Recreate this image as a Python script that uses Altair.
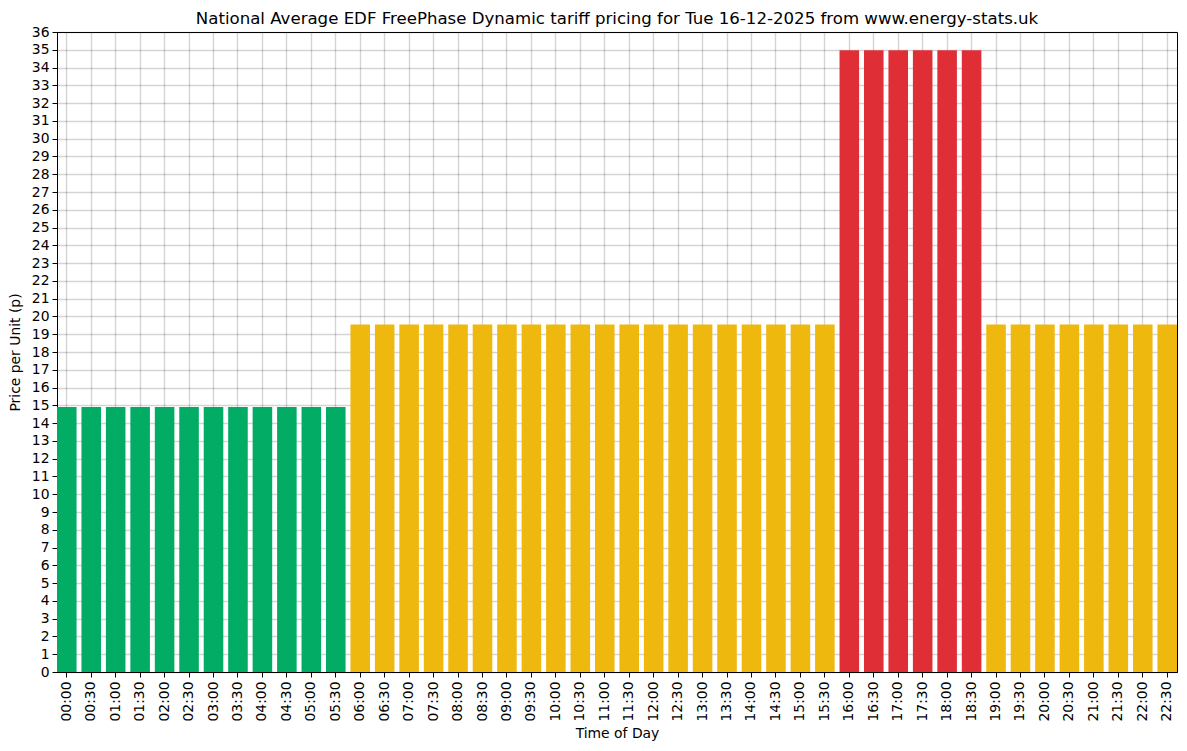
import altair as alt
import pandas as pd

times = ["00:00","00:30","01:00","01:30","02:00","02:30","03:00","03:30","04:00","04:30",
         "05:00","05:30","06:00","06:30","07:00","07:30","08:00","08:30","09:00","09:30",
         "10:00","10:30","11:00","11:30","12:00","12:30","13:00","13:30","14:00","14:30",
         "15:00","15:30","16:00","16:30","17:00","17:30","18:00","18:30","19:00","19:30",
         "20:00","20:30","21:00","21:30","22:00","22:30"]
prices = [14.9]*12 + [19.55]*20 + [34.97]*6 + [19.55]*8
bands = ["low"]*12 + ["mid"]*20 + ["high"]*6 + ["mid"]*8

df = pd.DataFrame({"time": times, "price": prices, "band": bands})

FONT = "DejaVu Sans"
FS = 13.9

chart = alt.Chart(df).mark_bar().encode(
    x=alt.X("time:N", sort=times, title="Time of Day",
            scale=alt.Scale(paddingInner=0.2, paddingOuter=0),
            axis=alt.Axis(labelAngle=270, bandPosition=0.5, labelFontSize=FS,
                          titleFontSize=FS, labelPadding=4, tickSize=5,
                          tickColor="black", domainColor="black", labelColor="black",
                          titleColor="black", labelFont=FONT, titleFont=FONT,
                          titleFontWeight="normal", titlePadding=5,
                          grid=True, gridColor="black", gridOpacity=0.17, gridWidth=1.4)),
    y=alt.Y("price:Q", title="Price per Unit (p)",
            scale=alt.Scale(domain=[0, 36], nice=False),
            axis=alt.Axis(values=list(range(0, 37)), labelFontSize=FS, titleFontSize=FS,
                          tickSize=5, tickColor="black", domainColor="black",
                          labelColor="black", titleColor="black", labelFont=FONT,
                          titleFont=FONT, titleFontWeight="normal", labelPadding=3,
                          titlePadding=9, grid=True, gridColor="black",
                          gridOpacity=0.17, gridWidth=1.4)),
    color=alt.Color("band:N", legend=None,
                    scale=alt.Scale(domain=["low", "mid", "high"],
                                    range=["#02ac64", "#efb80f", "#e02e36"])),
).properties(
    width=1120, height=640,
    title=alt.TitleParams(
        "National Average EDF FreePhase Dynamic tariff pricing for Tue 16-12-2025 from www.energy-stats.uk",
        fontSize=16.6, font=FONT, fontWeight="normal", color="black", anchor="middle", offset=-3),
    autosize=alt.AutoSizeParams(type="none"),
    padding={"left": 49, "top": 24, "right": 2, "bottom": 70},
).configure_view(stroke="black", strokeWidth=1)

chart.save("out.html", embed_options={"renderer": "svg", "actions": False})
